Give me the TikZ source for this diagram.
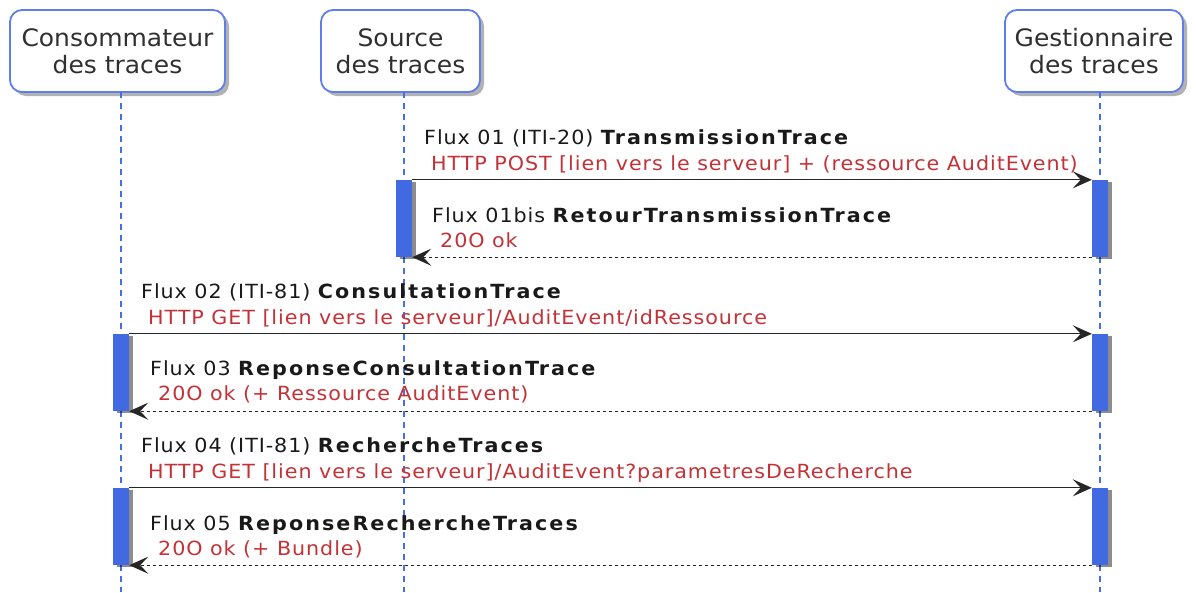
\documentclass[tikz,border=0pt]{standalone}
\usepackage{fontspec}
\setmainfont{DejaVu Sans}
\newfontfamily\hdrfont{DejaVu Sans}[FakeStretch=1.04]
\newfontfamily\msgfont{DejaVu Sans}[FakeStretch=1.06,LetterSpace=4.8]
\newfontfamily\msgbold{DejaVu Sans Bold}[FakeStretch=1.06,LetterSpace=10.5]
\newcommand\bname[1]{{\msgbold #1}}
\usetikzlibrary{arrows.meta,shadows}
\definecolor{lifeblue}{RGB}{70,110,230}
\definecolor{actblue}{RGB}{65,105,225}
\definecolor{boxblue}{RGB}{95,125,235}
\definecolor{msgred}{RGB}{195,50,55}
\definecolor{txt}{RGB}{25,25,25}
\tikzset{
  hdr/.style={draw=boxblue, line width=1.8pt, rounded corners=12pt, fill=white, align=center,
    font=\fontsize{24}{27}\hdrfont, text=txt!90, inner sep=0pt,
    drop shadow={shadow xshift=4pt, shadow yshift=-4pt, fill=black, opacity=0.3}},
  life/.style={draw=lifeblue, line width=1.2pt, dash pattern=on 6pt off 5pt},
  act/.style={fill=actblue, draw=none, minimum width=16pt, inner sep=0pt,
    drop shadow={shadow xshift=4pt, shadow yshift=-2pt, fill=black, opacity=0.45}},
  msg/.style={draw=black!85, line width=1.3pt, -{Stealth[length=19pt,width=17pt,inset=8pt]}},
  ret/.style={msg, dash pattern=on 3pt off 3pt},
  lab/.style={anchor=base west, inner sep=0pt, font=\fontsize{19.5}{22}\msgfont, text=txt},
  red/.style={lab, text=msgred},
}
\begin{document}
\begin{tikzpicture}[x=1pt,y=-1pt]
\useasboundingbox (0,0) rectangle (1196,592);
% headers
\node[hdr, minimum width=215pt, minimum height=82pt] (hc) at (117.5,51) {Consommateur\\des traces};
\node[hdr, minimum width=159pt, minimum height=82pt] (hs) at (400.5,51) {Source\\des traces};
\node[hdr, minimum width=178pt, minimum height=82pt] (hg) at (1094,51) {Gestionnaire\\des traces};
% lifeline ends
\coordinate (ec) at (121,592);
\coordinate (es) at (404,592);
\coordinate (eg) at (1100,592);
\coordinate (tc) at (121,92);
\coordinate (ts) at (404,92);
\coordinate (tg) at (1100,92);
\draw[life] (tc) -- (ec);
\draw[life] (ts) -- (es);
\draw[life] (tg) -- (eg);
% activations
\node[act, minimum height=77pt] (as1) at (404,218.5) {};
\node[act, minimum height=77pt] (ag1) at (1100,218.5) {};
\node[act, minimum height=77pt] (ac2) at (121,372.5) {};
\node[act, minimum height=77pt] (ag2) at (1100,372.5) {};
\node[act, minimum height=77pt] (ac3) at (121,526.5) {};
\node[act, minimum height=77pt] (ag3) at (1100,526.5) {};
% messages
\draw[msg] (as1.north east) -- (ag1.north west);
\draw[ret] (ag1.south west) -- (as1.south east);
\draw[msg] (ac2.north east) -- (ag2.north west);
\draw[ret] (ag2.south west) -- (ac2.south east);
\draw[msg] (ac3.north east) -- (ag3.north west);
\draw[ret] (ag3.south west) -- (ac3.south east);
% labels
\node[lab] (l1) at (424,144) {Flux 01 (ITI-20) \bname{TransmissionTrace}};
\node[red] (r1) at (431,170) {HTTP POST [lien vers le serveur] + (ressource AuditEvent)};
\node[lab] (l1b) at (432,222) {Flux 01bis \bname{RetourTransmissionTrace}};
\node[red] (r1b) at (440,247) {20O ok};
\node[lab] (l2) at (141,298) {Flux 02 (ITI-81) \bname{ConsultationTrace}};
\node[red] (r2) at (148,324) {HTTP GET [lien vers le serveur]/AuditEvent/idRessource};
\node[lab] (l3) at (150,375) {Flux 03 \bname{ReponseConsultationTrace}};
\node[red] (r3) at (158,400) {20O ok (+ Ressource AuditEvent)};
\node[lab] (l4) at (141,452) {Flux 04 (ITI-81) \bname{RechercheTraces}};
\node[red] (r4) at (148,478) {HTTP GET [lien vers le serveur]/AuditEvent?parametresDeRecherche};
\node[lab] (l5) at (150,530) {Flux 05 \bname{ReponseRechercheTraces}};
\node[red] (r5) at (158,555) {20O ok (+ Bundle)};
\end{tikzpicture}
\end{document}
